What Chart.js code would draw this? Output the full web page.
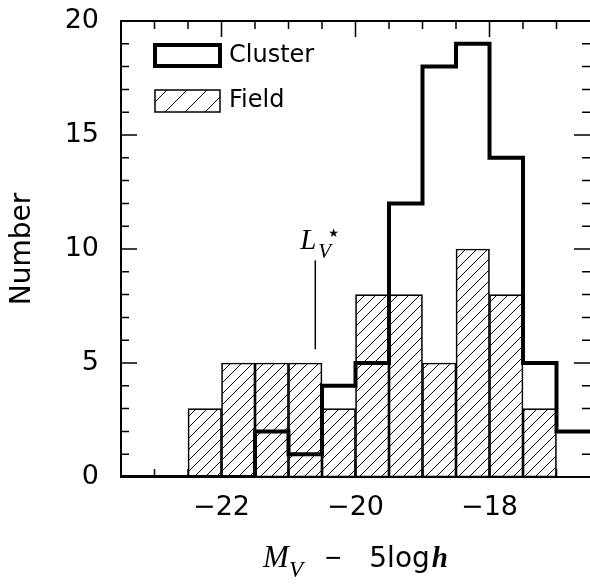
<!DOCTYPE html>
<html lang="en">
<head>
<meta charset="UTF-8">
<title>Cluster vs Field</title>
<script src="https://cdn.jsdelivr.net/npm/chart.js"></script>
<style>
  html, body { margin: 0; padding: 0; background: #fff; }
  #wrap { width: 590px; height: 586px; }
</style>
</head>
<body>
<div id="wrap"><canvas id="grafico" width="590" height="586"></canvas></div>
<script>
// bin edges (M_V - 5 log h), half magnitude bins
const binEdges = [-23.5, -23, -22.5, -22, -21.5, -21, -20.5, -20, -19.5, -19, -18.5, -18, -17.5, -17, -16.5];
// one count per bin, left to right
const clusterCounts = [0, 0, 0, 0, 2, 1, 4, 5, 12, 18, 19, 14, 5, 2];
const fieldCounts = [null, null, 3, 5, 5, 5, 3, 8, 8, 5, 10, 8, 3, null];
const xTickValues = [-22, -20, -18];
const yTickValues = [0, 5, 10, 15, 20];
const seriesLabels = ['Cluster', 'Field'];
// L_V* marker
const lvStarMag = -20.6;
const lvStarRange = [5.6, 9.5];

function hachura(step) {
  const c = document.createElement('canvas');
  c.width = step; c.height = step;
  const g = c.getContext('2d');
  g.strokeStyle = '#000';
  g.lineWidth = 1;
  g.beginPath();
  for (const k of [-step, 0, step]) {
    g.moveTo(k - 1, step + 1);
    g.lineTo(k + step + 1, -1);
  }
  g.stroke();
  return c;
}

const ctx = document.getElementById('grafico').getContext('2d');
const padrao = ctx.createPattern(hachura(11), 'repeat');

// step line: each point starts its bin at the left edge, last point closes the last bin
const pontosCluster = clusterCounts.map((n, i) => ({ x: binEdges[i], y: n }));
pontosCluster.push({ x: binEdges[binEdges.length - 1], y: clusterCounts[clusterCounts.length - 1] });

const pontosField = [];
fieldCounts.forEach((n, i) => {
  if (n !== null) pontosField.push({ x: (binEdges[i] + binEdges[i + 1]) / 2, y: n });
});

const molduraPlugin = {
  id: 'moldura',
  afterDatasetsDraw(chart) {
    const c = chart.ctx;
    const { left, right, top, bottom } = chart.chartArea;
    const xs = chart.scales.x, ys = chart.scales.y;
    c.save();
    c.strokeStyle = '#000';
    c.fillStyle = '#000';

    // frame
    c.lineWidth = 2;
    c.beginPath();
    c.moveTo(right + 1, top); c.lineTo(left, top); c.lineTo(left, bottom); c.lineTo(right + 1, bottom); c.lineTo(right + 1, top);
    c.stroke();

    // inward ticks
    c.lineWidth = 1.5;
    c.beginPath();
    for (let v = xs.min; v <= xs.max + 1e-9; v += 0.5) {
      if (v === xs.min || v === xs.max) continue;
      const px = xs.getPixelForValue(v);
      const len = xTickValues.some(t => Math.abs(t - v) < 1e-6) ? 16 : 8;
      c.moveTo(px, bottom); c.lineTo(px, bottom - len);
      c.moveTo(px, top); c.lineTo(px, top + len);
    }
    for (let v = ys.min + 1; v < ys.max; v += 1) {
      const py = ys.getPixelForValue(v);
      const len = yTickValues.includes(v) ? 16 : 8;
      c.moveTo(left, py); c.lineTo(left + len, py);
      c.moveTo(right, py); c.lineTo(right - len, py);
    }
    c.stroke();

    // L_V* marker
    const lx = xs.getPixelForValue(lvStarMag);
    const ly0 = ys.getPixelForValue(lvStarRange[0]);
    const ly1 = ys.getPixelForValue(lvStarRange[1]);
    c.lineWidth = 1.5;
    c.beginPath();
    c.moveTo(lx, ly0); c.lineTo(lx, ly1);
    c.stroke();
    c.textBaseline = 'alphabetic';
    c.textAlign = 'left';
    c.font = 'italic 29px "Liberation Serif"';
    c.fillText('L', lx - 15, ly1 - 11);
    c.font = 'italic 21px "Liberation Serif"';
    c.fillText('V', lx + 3, ly1 - 2);
    c.font = '12px "DejaVu Sans"';
    c.fillText('\u2605', lx + 13, ly1 - 23);

    // legend
    const bx = left + 34, bw = 65;
    c.lineWidth = 4;
    c.strokeRect(bx, top + 24, bw, 21);
    c.save();
    c.beginPath();
    c.rect(bx, top + 69, bw, 22);
    c.clip();
    c.lineWidth = 1;
    c.beginPath();
    for (let k = -30; k < bw + 30; k += 20) {
      c.moveTo(bx + k, top + 91);
      c.lineTo(bx + k + 22, top + 69);
    }
    c.stroke();
    c.restore();
    c.lineWidth = 1.5;
    c.strokeRect(bx, top + 69, bw, 22);
    c.font = '24px "DejaVu Sans"';
    c.textBaseline = 'middle';
    c.fillText(seriesLabels[0], bx + 74, top + 35);
    c.fillText(seriesLabels[1], bx + 74, top + 80);

    // x title: M_V - 5log h
    const pecas = [
      { t: 'M', f: 'italic 31px "Liberation Serif"', dy: 0, gap: 0 },
      { t: 'V', f: 'italic 23px "Liberation Serif"', dy: 10, gap: 22 },
      { t: '\u2212', f: '28px "Liberation Sans"', dy: 0, gap: 28 },
      { t: '5log', f: '28px "DejaVu Sans"', dy: 0, gap: 2 },
      { t: 'h', f: 'italic bold 29px "Liberation Serif"', dy: 0, gap: 0 }
    ];
    c.textBaseline = 'alphabetic';
    let total = 0;
    for (const p of pecas) { c.font = p.f; p.w = c.measureText(p.t).width; total += p.w + p.gap; }
    let x = (left + right) / 2 - total / 2;
    const base = bottom + 90;
    for (const p of pecas) {
      c.font = p.f;
      c.fillText(p.t, x, base + p.dy);
      x += p.w + p.gap;
    }
    c.restore();
  }
};

new Chart(ctx, {
  type: 'bar',
  data: {
    datasets: [
      {
        type: 'line',
        label: seriesLabels[0],
        data: pontosCluster,
        stepped: 'before',
        borderColor: '#000',
        borderWidth: 4,
        borderJoinStyle: 'miter',
        pointRadius: 0,
        fill: false,
        order: 0
      },
      {
        type: 'bar',
        label: seriesLabels[1],
        data: pontosField,
        backgroundColor: padrao,
        borderColor: '#000',
        borderWidth: 1,
        borderSkipped: false,
        barPercentage: 1,
        categoryPercentage: 1,
        order: 1
      }
    ]
  },
  options: {
    responsive: false,
    animation: false,
    layout: { padding: { top: 21, right: 0, left: 0, bottom: 0 } },
    plugins: { legend: { display: false }, tooltip: { enabled: false } },
    scales: {
      x: {
        type: 'linear',
        offset: false,
        min: binEdges[0],
        max: binEdges[binEdges.length - 1],
        grid: { display: false, drawTicks: false },
        border: { display: false },
        afterBuildTicks: s => { s.ticks = xTickValues.map(v => ({ value: v })); },
        afterFit: s => { s.height = 109; s.paddingLeft = 0; s.paddingRight = 0; },
        ticks: {
          color: '#000',
          font: { family: 'DejaVu Sans', size: 27 },
          padding: 15,
          maxRotation: 0,
          callback: v => '\u2212' + Math.abs(v)
        }
      },
      y: {
        min: 0,
        max: 20,
        grid: { display: false, drawTicks: false },
        border: { display: false },
        afterBuildTicks: s => { s.ticks = yTickValues.map(v => ({ value: v })); },
        afterFit: s => { s.width = 121; s.paddingTop = 0; s.paddingBottom = 0; },
        ticks: {
          color: '#000',
          font: { family: 'DejaVu Sans', size: 27 },
          padding: 22
        },
        title: {
          display: true,
          text: 'Number',
          color: '#000',
          font: { family: 'DejaVu Sans', size: 28 },
          padding: { top: 6, bottom: 0 }
        }
      }
    }
  },
  plugins: [molduraPlugin]
});
</script>
</body>
</html>
